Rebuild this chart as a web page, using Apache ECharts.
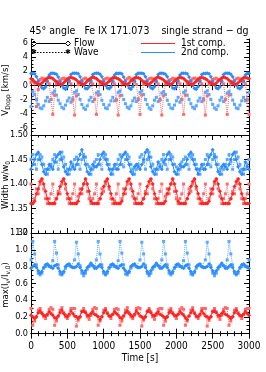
<!DOCTYPE html>
<html><head><meta charset="utf-8">
<script src="https://cdn.jsdelivr.net/npm/echarts@6/dist/echarts.min.js"></script>
<style>html,body{margin:0;padding:0;background:#fff}#c{width:266px;height:372px}</style>
</head><body><div id="c"></div>
<script>
// time samples [s]
const dt = 25;
const times = [];
for (let i = 0; i <= 120; i++) times.push(i * dt);

// Panel 1: Doppler velocity [km/s]
const vFlow1 = [
 0.9,0.75,0.5,0.3,0.15,0.1,0.3,0.55,0.8,1.0,1.1,1.05,
 0.95,0.7,0.5,0.25,0.1,0.15,0.35,0.6,0.85,1.05,1.1,1.0,
 0.9,0.75,0.45,0.3,0.15,0.1,0.3,0.6,0.8,1.0,1.15,1.05,
 0.95,0.7,0.5,0.3,0.1,0.15,0.35,0.55,0.85,1.05,1.1,1.0,
 0.9,0.75,0.5,0.25,0.15,0.1,0.3,0.6,0.8,1.0,1.1,1.05,
 0.95,0.7,0.45,0.3,0.1,0.15,0.35,0.55,0.85,1.05,1.15,1.0,
 0.9,0.75,0.5,0.3,0.15,0.1,0.3,0.6,0.8,1.0,1.1,1.05,
 0.95,0.7,0.5,0.25,0.1,0.15,0.35,0.55,0.85,1.05,1.1,1.0,
 0.9,0.75,0.45,0.3,0.15,0.1,0.3,0.6,0.8,1.0,1.15,1.05,
 0.95,0.7,0.5,0.3,0.1,0.15,0.35,0.55,0.85,1.05,1.1,1.0,
 0.9];
const vFlow2 = [
 1.65,1.7,1.6,1.2,0.6,0.05,-0.35,-0.5,-0.25,0.55,1.45,1.7,
 1.7,1.65,1.55,1.15,0.55,0.0,-0.4,-0.55,-0.2,0.6,1.5,1.7,
 1.7,1.7,1.6,1.2,0.6,0.05,-0.45,-0.5,-0.2,0.6,1.5,1.65,
 1.7,1.7,1.55,1.2,0.55,0.0,-0.4,-0.5,-0.25,0.55,1.45,1.7,
 1.65,1.7,1.6,1.15,0.6,0.05,-0.4,-0.55,-0.2,0.6,1.5,1.7,
 1.7,1.7,1.6,1.2,0.6,0.0,-0.35,-0.5,-0.2,0.55,1.5,1.7,
 1.7,1.65,1.55,1.2,0.55,0.05,-0.4,-0.5,-0.25,0.6,1.45,1.7,
 1.7,1.7,1.6,1.15,0.6,0.0,-0.45,-0.55,-0.2,0.6,1.5,1.65,
 1.65,1.7,1.6,1.2,0.55,0.05,-0.4,-0.5,-0.2,0.55,1.5,1.7,
 1.7,1.7,1.55,1.2,0.6,0.0,-0.4,-0.5,-0.25,0.6,1.45,1.7,
 1.7];
const vWave1 = [
 0.4,0.6,0.3,-3.0,-0.6,0.8,1.0,0.9,0.7,0.5,0.2,-2.0,
 -4.1,-1.4,0.2,0.5,0.7,0.9,1.0,0.9,0.7,0.5,0.2,-2.1,
 -4.2,-1.5,0.1,0.5,0.7,0.9,1.0,0.8,0.7,0.4,0.2,-2.0,
 -4.1,-1.4,0.2,0.5,0.8,0.9,1.0,0.9,0.6,0.5,0.2,-2.1,
 -4.2,-1.5,0.2,0.4,0.7,0.9,1.1,0.9,0.7,0.5,0.1,-2.0,
 -4.1,-1.4,0.1,0.5,0.7,0.9,1.0,0.9,0.7,0.5,0.2,-2.1,
 -4.2,-1.5,0.2,0.5,0.7,0.8,1.0,0.9,0.7,0.4,0.2,-2.0,
 -4.1,-1.4,0.2,0.5,0.7,0.9,1.0,0.9,0.7,0.5,0.2,-2.1,
 -4.2,-1.5,0.1,0.5,0.8,0.9,1.0,0.8,0.7,0.5,0.2,-2.0,
 -4.1,-1.4,0.2,0.5,0.7,0.9,1.0,0.9,0.6,0.5,0.2,-2.1,
 -4.1];
const vWave2 = [
 -3.0,-0.9,-1.3,-2.0,-2.7,-3.2,-3.3,-2.9,-2.2,-1.7,-2.3,-2.0,
 -1.1,-0.8,-1.4,-2.1,-2.6,-3.1,-3.3,-2.8,-2.2,-1.8,-2.4,-1.9,
 -1.0,-0.8,-1.3,-2.0,-2.7,-3.2,-3.4,-2.9,-2.1,-1.7,-2.3,-2.0,
 -1.1,-0.9,-1.3,-2.1,-2.7,-3.2,-3.3,-2.8,-2.2,-1.7,-2.2,-2.0,
 -1.0,-0.8,-1.4,-2.0,-2.6,-3.1,-3.3,-2.9,-2.2,-1.8,-2.3,-1.9,
 -1.0,-0.8,-1.3,-2.0,-2.7,-3.2,-3.4,-2.9,-2.1,-1.7,-2.3,-2.0,
 -1.1,-0.9,-1.3,-2.1,-2.7,-3.2,-3.3,-2.8,-2.2,-1.7,-2.4,-2.0,
 -1.0,-0.8,-1.4,-2.0,-2.6,-3.1,-3.3,-2.9,-2.2,-1.8,-2.3,-1.9,
 -1.0,-0.8,-1.3,-2.0,-2.7,-3.2,-3.4,-2.9,-2.1,-1.7,-2.3,-2.0,
 -1.1,-0.9,-1.3,-2.1,-2.7,-3.2,-3.3,-2.8,-2.2,-1.7,-2.2,-2.0,
 -1.0];

// Panel 2: width w/w0
const wFlow1 = [
 1.36,1.36,1.365,1.38,1.39,1.405,1.41,1.40,1.385,1.37,1.36,1.36,
 1.36,1.36,1.37,1.38,1.395,1.405,1.41,1.40,1.38,1.37,1.36,1.36,
 1.36,1.36,1.365,1.38,1.39,1.40,1.41,1.40,1.385,1.365,1.36,1.36,
 1.36,1.36,1.37,1.38,1.395,1.405,1.41,1.395,1.38,1.37,1.36,1.36,
 1.36,1.36,1.365,1.38,1.39,1.405,1.41,1.40,1.385,1.37,1.36,1.36,
 1.36,1.36,1.37,1.38,1.395,1.405,1.41,1.40,1.38,1.37,1.36,1.36,
 1.36,1.36,1.365,1.38,1.39,1.40,1.41,1.40,1.385,1.365,1.36,1.36,
 1.36,1.36,1.37,1.38,1.395,1.405,1.41,1.395,1.38,1.37,1.36,1.36,
 1.36,1.36,1.365,1.38,1.39,1.405,1.41,1.40,1.385,1.37,1.36,1.36,
 1.36,1.36,1.37,1.38,1.395,1.405,1.41,1.40,1.38,1.37,1.36,1.36,
 1.36];
const wFlow2 = [
 1.43,1.44,1.45,1.46,1.465,1.45,1.44,1.425,1.42,1.43,1.44,1.435,
 1.43,1.445,1.455,1.46,1.465,1.45,1.435,1.425,1.42,1.43,1.445,1.435,
 1.43,1.44,1.45,1.46,1.47,1.455,1.44,1.425,1.42,1.43,1.44,1.435,
 1.435,1.44,1.45,1.46,1.465,1.45,1.44,1.43,1.42,1.43,1.44,1.43,
 1.43,1.44,1.455,1.46,1.465,1.45,1.44,1.425,1.42,1.435,1.44,1.435,
 1.43,1.44,1.45,1.465,1.47,1.455,1.435,1.425,1.42,1.43,1.445,1.435,
 1.43,1.445,1.45,1.46,1.465,1.45,1.44,1.425,1.42,1.43,1.44,1.435,
 1.435,1.44,1.45,1.46,1.465,1.45,1.44,1.43,1.42,1.43,1.44,1.43,
 1.43,1.44,1.455,1.46,1.47,1.455,1.44,1.425,1.42,1.435,1.44,1.435,
 1.43,1.44,1.45,1.46,1.465,1.45,1.435,1.425,1.42,1.43,1.445,1.435,
 1.43];
const wWave1 = [
 1.40,1.36,1.37,1.39,1.38,1.40,1.41,1.39,1.37,1.36,1.37,1.38,
 1.40,1.36,1.37,1.385,1.38,1.40,1.41,1.39,1.37,1.36,1.37,1.38,
 1.40,1.36,1.375,1.39,1.38,1.40,1.41,1.385,1.37,1.36,1.37,1.38,
 1.40,1.36,1.37,1.39,1.385,1.40,1.41,1.39,1.37,1.36,1.365,1.38,
 1.40,1.36,1.37,1.39,1.38,1.40,1.41,1.39,1.375,1.36,1.37,1.38,
 1.40,1.36,1.37,1.385,1.38,1.40,1.41,1.39,1.37,1.36,1.37,1.385,
 1.40,1.36,1.375,1.39,1.38,1.40,1.41,1.385,1.37,1.36,1.37,1.38,
 1.40,1.36,1.37,1.39,1.385,1.40,1.41,1.39,1.37,1.36,1.365,1.38,
 1.40,1.36,1.37,1.39,1.38,1.40,1.41,1.39,1.375,1.36,1.37,1.38,
 1.40,1.36,1.37,1.385,1.38,1.40,1.41,1.39,1.37,1.36,1.37,1.38,
 1.40];
const wWave2 = [
 1.45,1.46,1.44,1.43,1.45,1.46,1.455,1.44,1.43,1.42,1.43,1.44,
 1.45,1.46,1.445,1.43,1.45,1.465,1.455,1.44,1.43,1.42,1.43,1.44,
 1.45,1.455,1.44,1.43,1.45,1.46,1.455,1.44,1.435,1.42,1.43,1.445,
 1.45,1.46,1.44,1.43,1.455,1.46,1.45,1.44,1.43,1.42,1.435,1.44,
 1.45,1.46,1.44,1.435,1.45,1.46,1.455,1.44,1.43,1.42,1.43,1.44,
 1.455,1.46,1.445,1.43,1.45,1.465,1.455,1.44,1.43,1.42,1.43,1.44,
 1.45,1.46,1.44,1.43,1.45,1.46,1.455,1.44,1.435,1.42,1.43,1.445,
 1.45,1.455,1.44,1.43,1.455,1.46,1.45,1.44,1.43,1.42,1.435,1.44,
 1.45,1.46,1.44,1.435,1.45,1.46,1.455,1.44,1.43,1.42,1.43,1.44,
 1.45,1.46,1.445,1.43,1.45,1.465,1.455,1.44,1.43,1.42,1.43,1.44,
 1.45];

// Panel 3: max(I_v / I_v,0)
const iFlow1 = [
 0.22,0.20,0.18,0.20,0.25,0.27,0.24,0.22,0.21,0.23,0.26,0.24,
 0.22,0.19,0.18,0.21,0.25,0.28,0.24,0.22,0.20,0.23,0.27,0.24,
 0.21,0.20,0.18,0.20,0.26,0.27,0.25,0.22,0.21,0.24,0.26,0.23,
 0.22,0.20,0.17,0.20,0.25,0.28,0.24,0.21,0.21,0.23,0.26,0.24,
 0.22,0.19,0.18,0.21,0.25,0.27,0.24,0.22,0.20,0.23,0.27,0.24,
 0.21,0.20,0.18,0.20,0.26,0.28,0.25,0.22,0.21,0.24,0.26,0.23,
 0.22,0.20,0.18,0.20,0.25,0.27,0.24,0.22,0.21,0.23,0.26,0.24,
 0.22,0.19,0.17,0.21,0.25,0.28,0.24,0.21,0.20,0.23,0.27,0.24,
 0.21,0.20,0.18,0.20,0.26,0.27,0.25,0.22,0.21,0.24,0.26,0.23,
 0.22,0.20,0.18,0.20,0.25,0.28,0.24,0.22,0.21,0.23,0.26,0.24,
 0.22];
const iFlow2 = [
 0.78,0.80,0.82,0.79,0.75,0.72,0.74,0.79,0.82,0.83,0.81,0.79,
 0.78,0.81,0.82,0.78,0.74,0.71,0.74,0.80,0.82,0.83,0.80,0.79,
 0.79,0.80,0.83,0.79,0.75,0.72,0.75,0.79,0.81,0.84,0.81,0.78,
 0.78,0.80,0.82,0.79,0.74,0.71,0.74,0.79,0.82,0.83,0.81,0.79,
 0.78,0.81,0.82,0.78,0.75,0.72,0.74,0.80,0.82,0.83,0.80,0.79,
 0.79,0.80,0.83,0.79,0.74,0.71,0.75,0.79,0.81,0.84,0.81,0.78,
 0.78,0.80,0.82,0.79,0.75,0.72,0.74,0.79,0.82,0.83,0.81,0.79,
 0.78,0.81,0.82,0.78,0.74,0.71,0.74,0.80,0.82,0.83,0.80,0.79,
 0.79,0.80,0.83,0.79,0.75,0.72,0.75,0.79,0.81,0.84,0.81,0.78,
 0.78,0.80,0.82,0.79,0.74,0.71,0.74,0.79,0.82,0.83,0.81,0.79,
 0.78];
const iWave1 = [
 0.30,0.10,0.15,0.20,0.28,0.30,0.25,0.20,0.18,0.22,0.29,0.31,
 0.29,0.10,0.15,0.21,0.28,0.31,0.25,0.20,0.18,0.22,0.30,0.30,
 0.30,0.09,0.16,0.20,0.27,0.30,0.26,0.20,0.17,0.22,0.29,0.31,
 0.30,0.10,0.15,0.20,0.28,0.30,0.25,0.21,0.18,0.23,0.29,0.30,
 0.29,0.10,0.15,0.21,0.28,0.31,0.25,0.20,0.18,0.22,0.30,0.31,
 0.30,0.09,0.16,0.20,0.27,0.30,0.26,0.20,0.17,0.22,0.29,0.30,
 0.30,0.10,0.15,0.20,0.28,0.30,0.25,0.21,0.18,0.23,0.29,0.31,
 0.29,0.10,0.15,0.21,0.28,0.31,0.25,0.20,0.18,0.22,0.30,0.30,
 0.30,0.09,0.16,0.20,0.27,0.30,0.26,0.20,0.17,0.22,0.29,0.31,
 0.30,0.10,0.15,0.20,0.28,0.30,0.25,0.21,0.18,0.23,0.29,0.30,
 0.30];
const iWave2 = [
 0.88,1.10,0.95,0.82,0.72,0.70,0.72,0.78,0.80,0.82,0.80,0.80,
 0.87,1.10,0.96,0.82,0.71,0.70,0.73,0.78,0.81,0.82,0.80,0.79,
 0.88,1.09,0.95,0.81,0.72,0.69,0.72,0.77,0.80,0.83,0.81,0.80,
 0.88,1.10,0.95,0.82,0.72,0.70,0.72,0.78,0.80,0.82,0.80,0.80,
 0.87,1.10,0.96,0.82,0.71,0.70,0.73,0.78,0.81,0.82,0.80,0.79,
 0.88,1.09,0.95,0.81,0.72,0.69,0.72,0.77,0.80,0.83,0.81,0.80,
 0.88,1.10,0.95,0.82,0.72,0.70,0.72,0.78,0.80,0.82,0.80,0.80,
 0.87,1.10,0.96,0.82,0.71,0.70,0.73,0.78,0.81,0.82,0.80,0.79,
 0.88,1.09,0.95,0.81,0.72,0.69,0.72,0.77,0.80,0.83,0.81,0.80,
 0.88,1.10,0.95,0.82,0.72,0.70,0.72,0.78,0.80,0.82,0.80,0.80,
 0.88];

// axis ticks
const xTicks = [0, 500, 1000, 1500, 2000, 2500, 3000];
const vTicks = [-6, -4, -2, 0, 2, 4, 6];
const wTicks = [1.30, 1.35, 1.40, 1.45, 1.50];
const iTicks = [0.0, 0.2, 0.4, 0.6, 0.8, 1.0, 1.2];
const vMinor = [-7,-6.5,-5.5,-5,-4.5,-3.5,-3,-2.5,-1.5,-1,-0.5,0.5,1,1.5,2.5,3,3.5,4.5,5,5.5,6.5];
const wMinor = [1.31,1.32,1.33,1.34,1.36,1.37,1.38,1.39,1.41,1.42,1.43,1.44,1.46,1.47,1.48,1.49];
const iMinor = [0.05,0.1,0.15,0.25,0.3,0.35,0.45,0.5,0.55,0.65,0.7,0.75,0.85,0.9,0.95,1.05,1.1,1.15];

const RED = '#ff2424', BLUE = '#2a8cff', RED_L = '#ff6a6a', BLUE_L = '#5aa8ff';
const FONT = '"Liberation Sans Narrow","DejaVu Sans Condensed","Liberation Sans",sans-serif';

const L = 31, W = 218;
const grids = [
  {left: L, width: W, top: 39, height: 96, outerBoundsMode: 'none', containLabel: false},
  {left: L, width: W, top: 135, height: 98, outerBoundsMode: 'none', containLabel: false},
  {left: L, width: W, top: 233, height: 104, outerBoundsMode: 'none', containLabel: false}
];
const ranges = [[-7, 6.5], [1.30, 1.50], [-0.04, 1.2]];
const majors = [vTicks, wTicks, iTicks];
const minors = [vMinor, wMinor, iMinor];
const fmts = [v => String(v), v => v.toFixed(2), v => v.toFixed(1)];

const line = {show: true, lineStyle: {color: '#000', width: 1}};
const xAxes = [], yAxes = [];
for (let g = 0; g < 3; g++) {
  for (const pos of ['bottom', 'top']) {
    xAxes.push({
      type: 'value', gridIndex: g, position: pos, min: 0, max: 3000, interval: 500,
      axisLine: line, splitLine: {show: false},
      axisTick: {show: true, inside: true, length: 5, lineStyle: {color: '#000'}},
      minorTick: {show: true, splitNumber: 5, length: 2.5, lineStyle: {color: '#000'}},
      axisLabel: {show: g === 2 && pos === 'bottom', formatter: v => String(v),
                  fontFamily: FONT, fontSize: 10, color: '#000', margin: 4},
      name: (g === 2 && pos === 'bottom') ? 'Time [s]' : '',
      nameLocation: 'middle', nameGap: 16,
      nameTextStyle: {fontFamily: FONT, fontSize: 10, color: '#000'}
    });
  }
}
const yAxisIdx = [];
for (let g = 0; g < 3; g++) {
  const idx = {};
  for (const pos of ['left', 'right']) {
    idx[pos + 'Major'] = yAxes.length;
    yAxes.push({
      type: 'value', gridIndex: g, position: pos, min: ranges[g][0], max: ranges[g][1],
      axisLine: line, splitLine: {show: false},
      axisTick: {show: true, inside: true, length: 5, customValues: majors[g], lineStyle: {color: '#000'}},
      axisLabel: {show: pos === 'left', customValues: majors[g], formatter: fmts[g],
                  fontFamily: FONT, fontSize: 9, color: '#000', margin: 3}
    });
    yAxes.push({
      type: 'value', gridIndex: g, position: pos, min: ranges[g][0], max: ranges[g][1],
      axisLine: {show: false}, splitLine: {show: false},
      axisTick: {show: true, inside: true, length: 2.5, customValues: minors[g], lineStyle: {color: '#000'}},
      axisLabel: {show: false}
    });
  }
  yAxisIdx.push(idx);
}

function pairs(arr) { return arr.map((v, i) => [times[i], v]); }
function flow(g, arr, c) {
  return {type: 'line', xAxisIndex: g * 2, yAxisIndex: yAxisIdx[g].leftMajor, data: pairs(arr),
    symbol: 'diamond', symbolSize: 4, showSymbol: true, animation: false,
    lineStyle: {color: c, width: 1}, itemStyle: {color: c}};
}
function wave(g, arr, c) {
  return {type: 'line', xAxisIndex: g * 2, yAxisIndex: yAxisIdx[g].leftMajor, data: pairs(arr),
    symbol: 'rect', symbolSize: 3, showSymbol: true, animation: false,
    lineStyle: {color: c, width: 1, type: 'dotted'}, itemStyle: {color: c}};
}

const series = [
  wave(0, vWave2, BLUE_L), wave(0, vWave1, RED_L), flow(0, vFlow2, BLUE), flow(0, vFlow1, RED),
  wave(1, wWave2, BLUE_L), wave(1, wWave1, RED_L), flow(1, wFlow2, BLUE), flow(1, wFlow1, RED),
  wave(2, iWave2, BLUE_L), wave(2, iWave1, RED_L), flow(2, iFlow2, BLUE), flow(2, iFlow1, RED)
];

// y-axis titles (rotated) and legend
const rich = {a: {fontFamily: FONT, fontSize: 9.5, fill: '#000'},
              s: {fontFamily: FONT, fontSize: 6.5, fill: '#000', padding: [5, 0, 0, 0]}};
function ytitle(txt, cy) {
  return {type: 'text', x: 6, y: cy, rotation: Math.PI / 2,
    style: {text: txt, rich: rich, align: 'center', verticalAlign: 'middle', fontFamily: FONT, fontSize: 9.5, fill: '#000'}};
}
function diamond(x, y) { return {type: 'polygon', shape: {points: [[x, y - 2.5], [x + 2.5, y], [x, y + 2.5], [x - 2.5, y]]}, style: {fill: '#fff', stroke: '#000', lineWidth: 1}}; }
function star(x, y) { return {type: 'text', x: x, y: y, style: {text: '✱', fontSize: 7, fill: '#000', align: 'center', verticalAlign: 'middle'}}; }
const lt = {fontFamily: FONT, fontSize: 10, fill: '#000', verticalAlign: 'middle'};
const graphic = [
  ytitle('{a|V}{s|Dopp}{a| [km/s]}', 90),
  ytitle('{a|Width w/w}{s|0}', 185),
  ytitle('{a|max(I}{s|v}{a|/I}{s|v,0}{a|)}', 285),
  {type: 'line', shape: {x1: 34, y1: 43.5, x2: 68, y2: 43.5}, style: {stroke: '#000', lineWidth: 1}},
  diamond(34, 43.5), diamond(68, 43.5),
  {type: 'text', x: 74, y: 43.5, style: Object.assign({text: 'Flow'}, lt)},
  {type: 'line', shape: {x1: 34, y1: 52.5, x2: 68, y2: 52.5}, style: {stroke: '#000', lineWidth: 1, lineDash: [1.5, 1.5]}},
  star(34, 52.5), star(68, 52.5),
  {type: 'text', x: 74, y: 52.5, style: Object.assign({text: 'Wave'}, lt)},
  {type: 'line', shape: {x1: 141, y1: 43.5, x2: 175, y2: 43.5}, style: {stroke: RED, lineWidth: 1}},
  {type: 'text', x: 181, y: 43.5, style: Object.assign({text: '1st comp.'}, lt)},
  {type: 'line', shape: {x1: 141, y1: 52.5, x2: 175, y2: 52.5}, style: {stroke: BLUE, lineWidth: 1}},
  {type: 'text', x: 181, y: 52.5, style: Object.assign({text: '2nd comp.'}, lt)}
];

const chart = echarts.init(document.getElementById('c'), null, {renderer: 'canvas'});
chart.setOption({
  animation: false,
  backgroundColor: '#fff',
  title: {text: '45° angle   Fe IX 171.073    single strand − dg', left: 134, textAlign: 'center', top: 21,
          textStyle: {fontFamily: FONT, fontSize: 10.5, fontWeight: 'normal', color: '#000'}},
  grid: grids,
  xAxis: xAxes,
  yAxis: yAxes,
  series: series,
  graphic: graphic
});
</script></body></html>
